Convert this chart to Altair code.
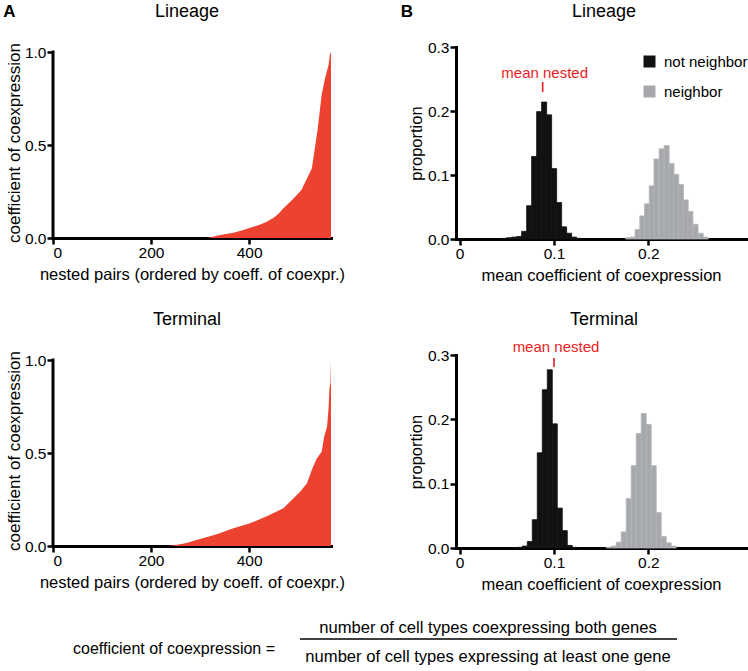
import altair as alt
import pandas as pd

FONT = "Liberation Sans"
RED_AREA = "#ee4230"
RED_TEXT = "#ec1c24"
BLACK = "#111111"
GRAY = "#a6a8ab"
GRAY_EDGE = "#b3b5b8"

# ---- Panel A: coefficient of coexpression of nested pairs, sorted ascending ----
N_PAIRS = 567
lineage_rank = [0, 315, 334, 350, 368, 385, 402, 420, 436, 450, 460, 470, 484,
                497, 507, 518, 528, 535, 540, 544, 548, 555, 562, 565, 567]
lineage_coef = [0, 0, 0.012, 0.02, 0.028, 0.04, 0.055, 0.07, 0.088, 0.109, 0.13,
                0.16, 0.195, 0.23, 0.26, 0.32, 0.375, 0.5, 0.59, 0.68, 0.77,
                0.86, 0.93, 0.99, 1.0]
terminal_rank = [0, 235, 250, 270, 300, 334, 368, 402, 436, 470, 490, 504, 518,
                 528, 538, 548, 553, 559, 562, 564, 566, 567]
terminal_coef = [0, 0, 0.005, 0.015, 0.038, 0.063, 0.095, 0.122, 0.16, 0.203,
                 0.256, 0.292, 0.337, 0.41, 0.47, 0.507, 0.588, 0.642, 0.74,
                 0.85, 0.88, 1.0]

# ---- Panel B: distributions of mean coefficient of coexpression ----
BIN_W = 0.0053
lin_not_start = [0.0445, 0.0498, 0.0551, 0.0604, 0.0657, 0.0710, 0.0763, 0.0816,
                 0.0869, 0.0922, 0.0975, 0.1028, 0.1081, 0.1134, 0.1187, 0.1240]
lin_not_prop = [0.001, 0.002, 0.003, 0.004, 0.012, 0.052, 0.129, 0.199, 0.214,
                0.194, 0.110, 0.057, 0.019, 0.009, 0.003, 0.001]
lin_nb_start = [0.1760, 0.1810, 0.1860, 0.1910, 0.1960, 0.2010, 0.2060, 0.2115,
                0.2168, 0.2220, 0.2270, 0.2320, 0.2370, 0.2420, 0.2475, 0.2530,
                0.2583]
lin_nb_prop = [0.002, 0.003, 0.015, 0.036, 0.055, 0.083, 0.125, 0.141, 0.146,
               0.118, 0.101, 0.085, 0.061, 0.043, 0.023, 0.009, 0.003]
term_not_start = [0.0558, 0.0611, 0.0664, 0.0717, 0.0770, 0.0823, 0.0876, 0.0929,
                  0.0982, 0.1035, 0.1088, 0.1141, 0.1194]
term_not_prop = [0.0005, 0.001, 0.003, 0.010, 0.044, 0.148, 0.246, 0.277, 0.193,
                 0.062, 0.027, 0.004, 0.001]
term_nb_start = [0.1554, 0.1607, 0.1660, 0.1713, 0.1766, 0.1819, 0.1872, 0.1925,
                 0.1978, 0.2031, 0.2084, 0.2137, 0.2190, 0.2243]
term_nb_prop = [0.001, 0.003, 0.009, 0.025, 0.077, 0.128, 0.178, 0.209, 0.192,
                0.128, 0.055, 0.018, 0.008, 0.003]
mean_nested = {"Lineage": 0.088, "Terminal": 0.100}

GROUPS = ["not neighbor", "neighbor"]
FORMULA_LEFT = "coefficient of coexpression ="
FORMULA_NUM = "number of cell types coexpressing both genes"
FORMULA_DEN = "number of cell types expressing at least one gene"

A_W, A_H = 278, 191
B_W = 290
A_YTOP = 1.027


def label(text, x, y, size=18, weight="normal", color="black", align="center"):
    return alt.Chart(pd.DataFrame({"t": [text]})).mark_text(
        font=FONT, fontSize=size, fontWeight=weight, color=color,
        align=align, baseline="middle"
    ).encode(text="t:N", x=alt.value(x), y=alt.value(y))


def curve_panel(rank, coef, title, letter=None, anchor=False, extra=()):
    df = pd.DataFrame({"rank": rank, "coef": coef})
    x = alt.X("rank:Q", scale=alt.Scale(domain=[0, N_PAIRS], nice=False, zero=False),
              axis=alt.Axis(values=[0, 200, 400], format="d",
                            title="nested pairs (ordered by coeff. of coexpr.)"))
    y = alt.Y("coef:Q", scale=alt.Scale(domain=[0, A_YTOP], nice=False),
              axis=alt.Axis(values=[0, 0.5, 1.0], format=".1f", domain=False,
                            title="coefficient of coexpression",
                            titleFontSize=17, titlePadding=1))
    area = alt.Chart(df).mark_area(color=RED_AREA, interpolate="linear").encode(x=x, y=y)
    # y axis line stops at 1.0
    spine = alt.Chart(pd.DataFrame({"rank": [0], "coef": [0], "top": [1.0]})).mark_rule(
        color="black", strokeWidth=3, strokeCap="square"
    ).encode(x=x, y=y, y2="top:Q")
    layers = [area, spine, label(title, 134, -35)]
    if letter:
        layers.append(label(letter, -43.5, -35, size=17, weight="bold"))
    if anchor:
        layers.append(alt.Chart(pd.DataFrame({"a": [0]})).mark_rect(opacity=0).encode(
            x=alt.value(-53), x2=alt.value(-52), y=alt.value(-47), y2=alt.value(-46)))
    layers.extend(extra)
    return alt.layer(*layers).properties(width=A_W, height=A_H)


def hist_panel(not_start, not_prop, nb_start, nb_prop, mean, title, height,
               letter=None, legend=False, text_y=26, tick_y=(35, 45)):
    df = pd.concat([
        pd.DataFrame({"value": not_start, "prop": not_prop, "group": GROUPS[0]}),
        pd.DataFrame({"value": nb_start, "prop": nb_prop, "group": GROUPS[1]}),
    ])
    x = alt.X("value:Q", scale=alt.Scale(domain=[-0.0039, 0.3036], nice=False, zero=False),
              axis=alt.Axis(values=[0, 0.1, 0.2],
                            labelExpr="datum.value == 0 ? '0' : format(datum.value, '.1f')",
                            title="mean coefficient of coexpression"))
    y = alt.Y("prop:Q", scale=alt.Scale(domain=[0, 0.3], nice=False),
              axis=alt.Axis(values=[0, 0.1, 0.2, 0.3], format=".1f", title="proportion"))
    if legend:
        leg = alt.Legend(orient="none", legendX=186, legendY=7, title=None,
                         symbolType="square", symbolSize=144, symbolStrokeWidth=0,
                         labelFont=FONT, labelFontSize=15, labelColor="black",
                         labelOffset=7, rowPadding=14, padding=0)
    else:
        leg = None
    bars = alt.Chart(df).transform_calculate(
        end=f"datum.value + {BIN_W}", base="0"
    ).mark_rect(strokeWidth=0.8).encode(
        x=x, x2="end:Q", y=y, y2="base:Q",
        color=alt.Color("group:N", scale=alt.Scale(domain=GROUPS, range=[BLACK, GRAY]),
                        legend=leg),
        stroke=alt.Stroke("group:N",
                          scale=alt.Scale(domain=GROUPS, range=[BLACK, GRAY_EDGE]),
                          legend=None),
    )
    mdf = pd.DataFrame({"value": [mean], "t": ["mean nested"]})
    tick = alt.Chart(mdf).mark_rule(color=RED_TEXT, strokeWidth=1.6).encode(
        x=x, y=alt.value(tick_y[0]), y2=alt.value(tick_y[1]))
    txt = alt.Chart(mdf).mark_text(font=FONT, fontSize=15, color=RED_TEXT, dx=2,
                                   baseline="middle").encode(
        x=x, y=alt.value(text_y), text="t:N")
    layers = [bars, tick, txt, label(title, 148, -35)]
    if letter:
        layers.append(label(letter, -49, -35, size=17, weight="bold"))
    return alt.layer(*layers).properties(width=B_W, height=height)


# definition of the coefficient, set below the bottom row
formula = [
    label(FORMULA_LEFT, 20, 294, size=16, align="left"),
    label(FORMULA_NUM, 435, 273, size=16.6),
    alt.Chart(pd.DataFrame({"a": [0]})).mark_rule(color="black", strokeWidth=1.5).encode(
        x=alt.value(247), x2=alt.value(624), y=alt.value(284)),
    label(FORMULA_DEN, 435, 302, size=16.6),
]

a_lin = curve_panel(lineage_rank, lineage_coef, "Lineage", letter="A", anchor=True)
b_lin = hist_panel(lin_not_start, lin_not_prop, lin_nb_start, lin_nb_prop,
                   mean_nested["Lineage"], "Lineage", 192, letter="B", legend=True)
a_term = curve_panel(terminal_rank, terminal_coef, "Terminal", extra=formula)
b_term = hist_panel(term_not_start, term_not_prop, term_nb_start, term_nb_prop,
                    mean_nested["Terminal"], "Terminal", 193,
                    text_y=-8, tick_y=(3, 12))

chart = alt.concat(
    a_lin, b_lin, a_term, b_term, columns=2,
    spacing={"row": 116, "column": 125}, bounds="flush",
).resolve_scale(color="independent", stroke="independent").properties(padding=0).configure(
    font=FONT
).configure_view(stroke=None).configure_axis(
    domainColor="black", domainWidth=3, domainCap="square",
    tickColor="black", tickWidth=2.5, tickSize=6,
    labelFont=FONT, labelFontSize=15.5, labelColor="black", labelPadding=1,
    titleFont=FONT, titleFontSize=16.5, titleFontWeight="normal", titleColor="black",
    grid=False,
).configure_axisY(titlePadding=3).configure_axisX(titlePadding=6)

chart.save("out.html", embed_options={"renderer": "svg", "actions": False})
